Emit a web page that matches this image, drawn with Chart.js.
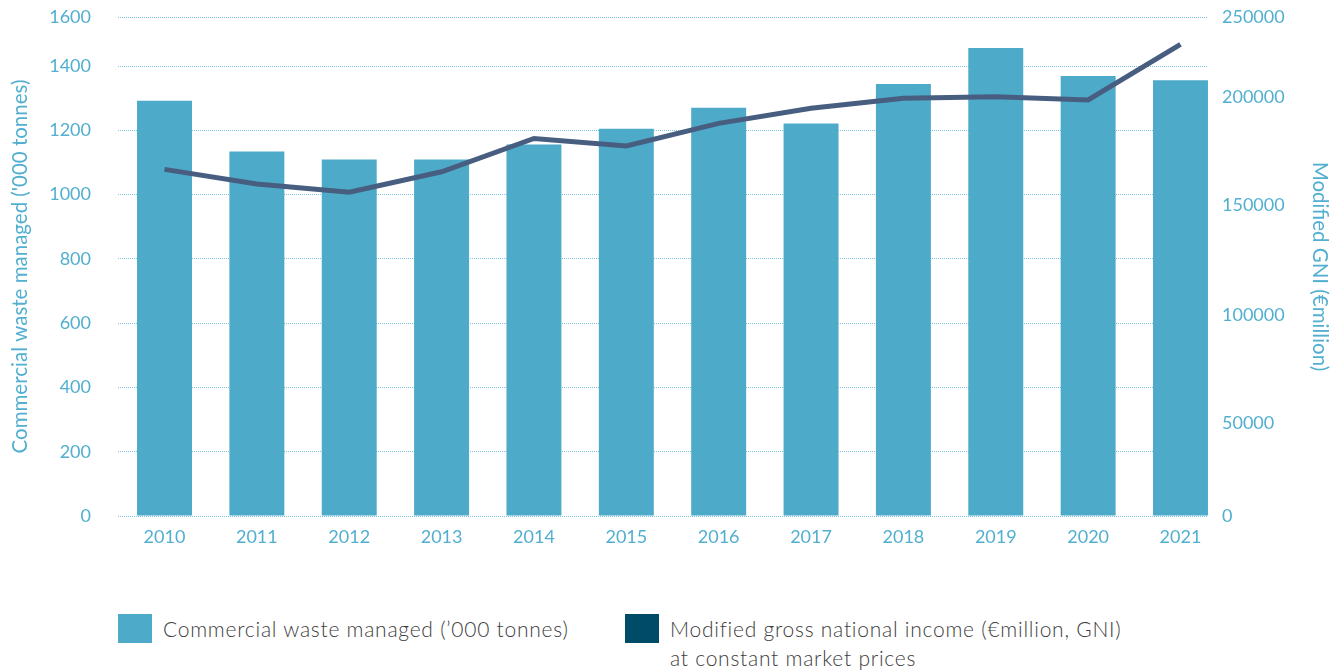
<!DOCTYPE html>
<html>
<head>
<meta charset="utf-8">
<title>Commercial waste and modified GNI</title>
<script src="https://cdn.jsdelivr.net/npm/chart.js@4/dist/chart.umd.min.js"></script>
<style>
body { margin: 0; background: #fff; font-family: Lato, "Open Sans", sans-serif; }
#wrap { position: relative; width: 1337px; height: 671px; }
#chart-box { position: absolute; left: 0; top: 0; width: 1337px; height: 560px; }
.key { position: absolute; font-size: 21px; line-height: 29px; color: #3d3d3d; font-weight: 300; letter-spacing: 0.75px; }
.key i { position: absolute; left: -45px; top: 0; width: 34px; height: 29px; }
</style>
</head>
<body>
<div id="wrap">
  <div id="chart-box"><canvas id="myChart"></canvas></div>
  <div class="key" style="left:163px; top:614px;"><i style="background:#4daac9"></i>Commercial waste managed (’000 tonnes)</div>
  <div class="key" style="left:670px; top:614px;"><i style="background:#004c68"></i>Modified gross national income (€million, GNI)<br>at constant market prices</div>
</div>
<script>
var years = [2010, 2011, 2012, 2013, 2014, 2015, 2016, 2017, 2018, 2019, 2020, 2021];
var waste = [1292, 1134, 1109, 1109, 1156, 1205, 1270, 1221, 1344, 1473, 1369, 1356];
var gni = [166500, 159700, 155900, 165400, 180800, 177300, 187800, 194800, 199400, 200200, 198600, 232900];
var wasteTicks = [0, 200, 400, 600, 800, 1000, 1200, 1400, 1600];
var gniTicks = [0, 50000, 100000, 150000, 200000, 250000];

// the artwork's axes are not evenly spaced, so each axis maps value -> share of height piece by piece
var axisKnots = {
  y: [[0, 0], [1400, 0.9018], [1600, 1]],
  y1: [[0, 0], [50000, 0.1864], [100000, 0.4018], [150000, 0.6232], [200000, 0.8397], [250000, 1]]
};

function lerpKnots(k, v, from, to) {
  var i = 0;
  while (i < k.length - 2 && v > k[i + 1][from]) i++;
  var a = k[i], b = k[i + 1];
  return a[to] + (v - a[from]) / (b[from] - a[from]) * (b[to] - a[to]);
}

class PiecewiseScale extends Chart.LinearScale {
  getPixelForValue(value) {
    var k = axisKnots[this.id];
    if (!k) return super.getPixelForValue(value);
    return this.getPixelForDecimal(lerpKnots(k, value, 0, 1));
  }
  getValueForPixel(pixel) {
    var k = axisKnots[this.id];
    if (!k) return super.getValueForPixel(pixel);
    return lerpKnots(k, this.getDecimalForPixel(pixel), 1, 0);
  }
}
PiecewiseScale.id = 'piecewise';
PiecewiseScale.defaults = Chart.LinearScale.defaults;
Chart.register(PiecewiseScale);

var blue = '#52afd0';
var tickFont = { family: 'Lato', size: 18, weight: 'normal' };
var titleFont = { family: 'Lato', size: 20.5, weight: 'normal' };

// fixed box sizes keep the plot area where the layout wants it
function fitY(width) {
  return function (s) { s.width = width; s.paddingTop = 0; s.paddingBottom = 0; };
}

var ctx = document.getElementById('myChart').getContext('2d');
var chart = new Chart(ctx, {
    type: 'bar',
    data: {
        datasets: [{
            type: 'line',
            label: 'Modified gross national income (€million, GNI) at constant market prices',
            data: gni.map(function (v, i) { return { x: years[i], y: v }; }),
            yAxisID: 'y1',
            borderColor: '#485e80',
            borderWidth: 5,
            pointRadius: 0,
            tension: 0,
            order: 0
        }, {
            label: 'Commercial waste managed (’000 tonnes)',
            data: waste.map(function (v, i) { return { x: years[i], y: v }; }),
            yAxisID: 'y',
            backgroundColor: '#4daac9',
            categoryPercentage: 1,
            barPercentage: 0.595,
            order: 1
        }]
    },
    options: {
        responsive: true,
        maintainAspectRatio: false,
        animation: false,
        layout: { padding: { top: 17, left: 0, right: 0, bottom: 0 } },
        plugins: { legend: { display: false }, tooltip: { enabled: false } },
        scales: {
            x: {
                type: 'linear',
                offset: false,
                min: 2009.4965,
                max: 2021.2978,
                grid: { display: false, drawTicks: false },
                border: { display: false },
                afterBuildTicks: function (s) { s.ticks = years.map(function (v) { return { value: v }; }); },
                afterFit: function (s) { s.height = 44; s.paddingLeft = 0; s.paddingRight = 0; },
                ticks: { color: blue, font: tickFont, padding: 10, maxRotation: 0, autoSkip: false,
                         callback: function (v) { return String(v); } }
            },
            y: {
                type: 'piecewise',
                position: 'left',
                min: 0,
                max: 1600,
                grid: { color: '#7cc3dc', lineWidth: 1, drawTicks: false },
                border: { display: false, dash: [1, 1] },
                afterBuildTicks: function (s) { s.ticks = wasteTicks.map(function (v) { return { value: v }; }); },
                afterFit: fitY(118),
                ticks: { color: blue, font: tickFont, padding: 27, callback: function (v) { return String(v); } },
                title: { display: true, text: "Commercial waste managed ('000 tonnes)", color: blue, font: titleFont,
                         padding: { top: 8, bottom: 0 } }
            },
            y1: {
                type: 'piecewise',
                position: 'right',
                min: 0,
                max: 250000,
                grid: { display: false, drawTicks: false },
                border: { display: false },
                afterBuildTicks: function (s) { s.ticks = gniTicks.map(function (v) { return { value: v }; }); },
                afterFit: fitY(129),
                ticks: { color: blue, font: tickFont, padding: 14, callback: function (v) { return String(v); } },
                title: { display: true, text: 'Modified GNI (€million)', color: blue, font: titleFont,
                         padding: { top: 5, bottom: 0 } }
            }
        }
    }
});
</script>
</body>
</html>
